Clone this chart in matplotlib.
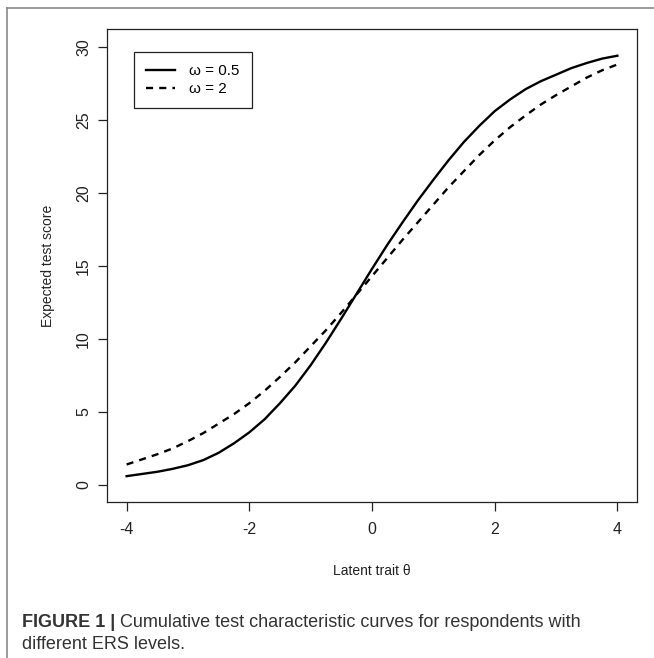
import matplotlib
matplotlib.use("Agg")
import matplotlib.pyplot as plt
from matplotlib.lines import Line2D

plt.rcParams['font.family'] = ['Liberation Sans', 'DejaVu Sans']

# latent trait grid and expected test scores
theta = [-4, -3.75, -3.5, -3.25, -3, -2.75, -2.5, -2.25, -2, -1.75, -1.5, -1.25, -1, -0.75, -0.5, -0.25,
         0, 0.25, 0.5, 0.75, 1, 1.25, 1.5, 1.75, 2, 2.25, 2.5, 2.75, 3, 3.25, 3.5, 3.75, 4]
score_w05 = [0.6, 0.75, 0.9, 1.1, 1.35, 1.7, 2.2, 2.85, 3.6, 4.5, 5.6, 6.8, 8.2, 9.75, 11.4, 13.1,
             14.8, 16.45, 18.0, 19.5, 20.9, 22.25, 23.5, 24.6, 25.6, 26.4, 27.1, 27.65, 28.1, 28.55, 28.9, 29.2, 29.4]
score_w2 = [1.4, 1.75, 2.1, 2.5, 3.0, 3.55, 4.2, 4.85, 5.6, 6.45, 7.4, 8.4, 9.5, 10.6, 11.8, 13.05,
            14.3, 15.55, 16.8, 18.0, 19.2, 20.4, 21.5, 22.6, 23.6, 24.5, 25.3, 26.05, 26.7, 27.3, 27.9, 28.4, 28.8]
labels = ["\u03c9 = 0.5", "\u03c9 = 2"]
xticks = [-4, -2, 0, 2, 4]
yticks = [0, 5, 10, 15, 20, 25, 30]

W, H = 654, 658
fig = plt.figure(figsize=(W / 100, H / 100), dpi=100)
ax = fig.add_axes([107 / W, 1 - 502 / H, 530 / W, 473 / H])

ax.plot(theta, score_w05, color="black", lw=1.7, label=labels[0])
ax.plot(theta, score_w2, color="black", lw=1.7, ls=(0, (3, 2.6)), label=labels[1])

ax.set_xlim(-4.32, 4.32)
ax.set_ylim(-1.17, 31.23)
ax.set_xticks(xticks)
ax.set_xticklabels(["-4", "-2", "0", "2", "4"])
ax.set_yticks(yticks)
ax.set_yticklabels([str(v) for v in yticks], rotation=90, va="center")
ax.tick_params(direction="out", length=6.5, width=0.9, labelsize=11.5, colors="#222222")
ax.tick_params(axis="x", pad=8)
ax.tick_params(axis="y", pad=5)
for s in ax.spines.values():
    s.set_linewidth(0.9)
    s.set_color("#222222")

ax.set_xlabel("Latent trait \u03b8", fontsize=10, labelpad=19, color="#222222")
ax.set_ylabel("Expected test score", fontsize=10, labelpad=15, color="#222222")

leg = ax.legend(loc="upper left", bbox_to_anchor=(0.051, 0.951), borderaxespad=0,
                fontsize=11, frameon=True, fancybox=False, framealpha=1,
                handlelength=1.9, handletextpad=0.9, borderpad=0.8, labelspacing=0.25)
leg.get_frame().set_edgecolor("#222222")
leg.get_frame().set_linewidth(0.9)

# outer frame of the figure panel
grey = "#8a8a8a"
fig.add_artist(Line2D([7 / W, 1], [1 - 8 / H, 1 - 8 / H], color=grey, lw=1.2))
fig.add_artist(Line2D([7 / W, 7 / W], [1 - 8 / H, 0], color=grey, lw=1.2))

# caption
cap_col = "#333333"
t1 = fig.text(22 / W, 1 - 627 / H, "FIGURE 1 |", fontsize=13, fontweight="bold", color=cap_col)
ax.annotate(" Cumulative test characteristic curves for respondents with",
            xy=(1, 0), xycoords=t1, va="bottom", ha="left",
            fontsize=13, color=cap_col, annotation_clip=False)
fig.text(22 / W, 1 - 649 / H, "different ERS levels.", fontsize=13, color=cap_col)

fig.savefig("out.png", dpi=100)
